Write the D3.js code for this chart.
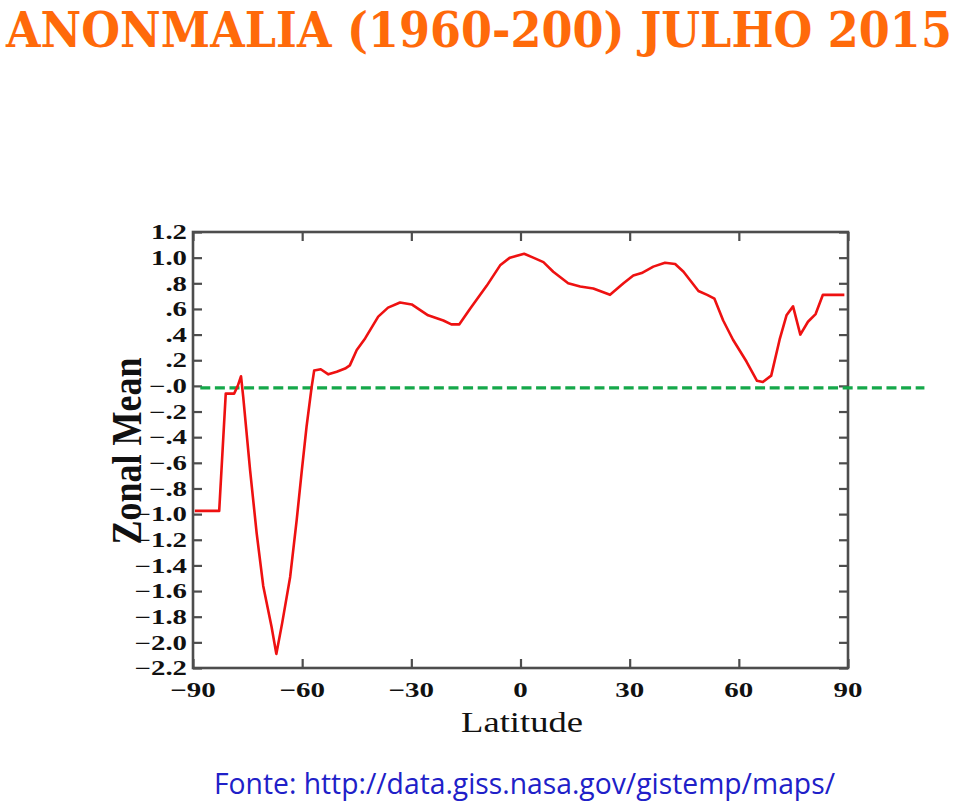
<!DOCTYPE html>
<html>
<head>
<meta charset="utf-8">
<script src="https://cdn.jsdelivr.net/npm/d3@7"></script>
<style>
  html, body { margin: 0; padding: 0; background: #fff; }
  svg { display: block; }
</style>
</head>
<body>
<svg id="chart" width="960" height="804"></svg>
<script>
// ---- data ----
const titleText = "ANONMALIA (1960-200) JULHO 2015";
const sourceText = "Fonte: http://data.giss.nasa.gov/gistemp/maps/";
const xAxisTitle = "Latitude";
const yAxisTitle = "Zonal Mean";

const latitude = [-89.5, -82.8, -81.0, -78.7, -77.7, -76.8, -76.2, -74.3, -72.5, -70.7, -68.4, -67.1,
  -65.5, -63.3, -61.5, -60.1, -58.8, -57.4, -56.7, -54.9, -52.8, -50.5, -48.2, -46.9, -45.0, -42.7,
  -39.1, -36.4, -33.1, -29.9, -25.4, -21.2, -19.0, -16.8, -13.9, -9.3, -5.6, -2.9, 1.0, 3.5, 6.3,
  9.0, 13.1, 16.4, 20.0, 24.6, 28.3, 31.0, 33.3, 36.5, 39.7, 42.5, 44.8, 48.9, 51.3, 53.3, 55.7,
  58.4, 62.1, 65.0, 66.6, 68.9, 71.2, 73.1, 74.9, 76.9, 79.0, 81.1, 83.1, 89.0];
const zonalMean = [-0.975, -0.975, -0.06, -0.06, 0.0, 0.075, -0.085, -0.66, -1.15, -1.56, -1.88, -2.09,
  -1.85, -1.49, -1.045, -0.66, -0.32, -0.01, 0.12, 0.13, 0.09, 0.11, 0.135, 0.16, 0.28, 0.37,
  0.54, 0.61, 0.65, 0.635, 0.55, 0.51, 0.48, 0.48, 0.60, 0.78, 0.94, 1.00, 1.03, 1.0, 0.965,
  0.89, 0.80, 0.775, 0.76, 0.71, 0.80, 0.86, 0.88, 0.93, 0.96, 0.95, 0.89, 0.74, 0.71, 0.68, 0.51,
  0.36, 0.19, 0.04, 0.03, 0.08, 0.36, 0.55, 0.62, 0.40, 0.50, 0.56, 0.71, 0.71];

const xTicks = [-90, -60, -30, 0, 30, 60, 90];
const xTickLabels = ["\u221290", "\u221260", "\u221230", "0", "30", "60", "90"];
const yTicks = [1.2, 1.0, 0.8, 0.6, 0.4, 0.2, 0.0, -0.2, -0.4, -0.6, -0.8, -1.0, -1.2, -1.4, -1.6, -1.8, -2.0, -2.2];
const yTickLabels = ["1.2", "1.0", ".8", ".6", ".4", ".2", "\u2212.0", "\u2212.2", "\u2212.4", "\u2212.6", "\u2212.8",
  "\u22121.0", "\u22121.2", "\u22121.4", "\u22121.6", "\u22121.8", "\u22122.0", "\u22122.2"];

const refLineValue = -0.015;
const refLineExtent = [-88, 111];

// ---- layout ----
const svg = d3.select("#chart");
const plot = { left: 193, right: 848, top: 232, bottom: 668 };
const x = d3.scaleLinear().domain([-90, 90]).range([plot.left, plot.right]);
const y = d3.scaleLinear().domain([-2.2, 1.2]).range([plot.bottom, plot.top]);
const serif = "'Liberation Serif', 'Times New Roman', serif";
const frameColor = "#4d4d4d";

// title (scaled horizontally to fit the width)
const title = svg.append("text")
  .attr("font-family", "'DejaVu Serif', serif").attr("font-weight", "bold").attr("font-size", 49)
  .attr("fill", "#ff6a0a")
  .text(titleText);
const titleLen = title.node().getComputedTextLength();
title.attr("transform", `translate(6,47) scale(${946 / titleLen},1)`);

// frame
svg.append("rect")
  .attr("x", plot.left).attr("y", plot.top)
  .attr("width", plot.right - plot.left).attr("height", plot.bottom - plot.top)
  .attr("fill", "none").attr("stroke", frameColor).attr("stroke-width", 2.6);

// axes (ticks inward, labels drawn separately)
const tickLen = 9;
const gLeft = svg.append("g").attr("transform", `translate(${plot.left},0)`)
  .call(d3.axisRight(y).tickValues(yTicks).tickSize(tickLen).tickFormat(""));
const gRight = svg.append("g").attr("transform", `translate(${plot.right},0)`)
  .call(d3.axisLeft(y).tickValues(yTicks).tickSize(tickLen).tickFormat(""));
const gBottom = svg.append("g").attr("transform", `translate(0,${plot.bottom})`)
  .call(d3.axisTop(x).tickValues(xTicks).tickSize(tickLen).tickFormat(""));
const gTop = svg.append("g").attr("transform", `translate(0,${plot.top})`)
  .call(d3.axisBottom(x).tickValues(xTicks).tickSize(tickLen).tickFormat(""));
[gLeft, gRight, gBottom, gTop].forEach(g => {
  g.select(".domain").remove();
  g.selectAll(".tick line").attr("stroke", frameColor).attr("stroke-width", 2.2);
});

// y tick labels
svg.append("g").selectAll("text")
  .data(yTicks)
  .join("text")
  .attr("transform", d => `translate(187,${y(d)}) scale(1.44,1)`)
  .attr("dy", "0.36em")
  .attr("text-anchor", "end")
  .attr("font-family", serif).attr("font-weight", "bold").attr("font-size", 20)
  .attr("fill", "#111")
  .text((d, i) => yTickLabels[i]);

// x tick labels
svg.append("g").selectAll("text")
  .data(xTicks)
  .join("text")
  .attr("transform", d => `translate(${x(d)},697) scale(1.38,1)`)
  .attr("text-anchor", "middle")
  .attr("font-family", serif).attr("font-weight", "bold").attr("font-size", 21)
  .attr("fill", "#111")
  .text((d, i) => xTickLabels[i]);

// axis titles
svg.append("text")
  .attr("transform", `translate(522,732) scale(1.22,1)`)
  .attr("text-anchor", "middle")
  .attr("font-family", serif).attr("font-size", 30)
  .attr("fill", "#111")
  .text(xAxisTitle);

svg.append("text")
  .attr("transform", `translate(141,451) rotate(-90) scale(1,1.2)`)
  .attr("text-anchor", "middle")
  .attr("font-family", serif).attr("font-weight", "bold").attr("font-size", 36)
  .attr("fill", "#111")
  .text(yAxisTitle);

// zero reference line (green dashed)
svg.append("line")
  .attr("x1", x(refLineExtent[0])).attr("x2", x(refLineExtent[1]))
  .attr("y1", y(refLineValue)).attr("y2", y(refLineValue))
  .attr("stroke", "#15a84a").attr("stroke-width", 3.2)
  .attr("stroke-dasharray", "10,4.6");

// data line
const pts = latitude.map((d, i) => [d, zonalMean[i]]);
svg.append("path")
  .datum(pts)
  .attr("fill", "none")
  .attr("stroke", "#ee1111").attr("stroke-width", 2.6)
  .attr("stroke-linejoin", "round")
  .attr("d", d3.line().x(d => x(d[0])).y(d => y(d[1])));

// source
svg.append("text")
  .attr("x", 214).attr("y", 794)
  .attr("textLength", 621).attr("lengthAdjust", "spacingAndGlyphs")
  .attr("font-family", "'Open Sans', 'Noto Sans', sans-serif").attr("font-size", 29)
  .attr("fill", "#2020c8")
  .text(sourceText);
</script>
</body>
</html>
